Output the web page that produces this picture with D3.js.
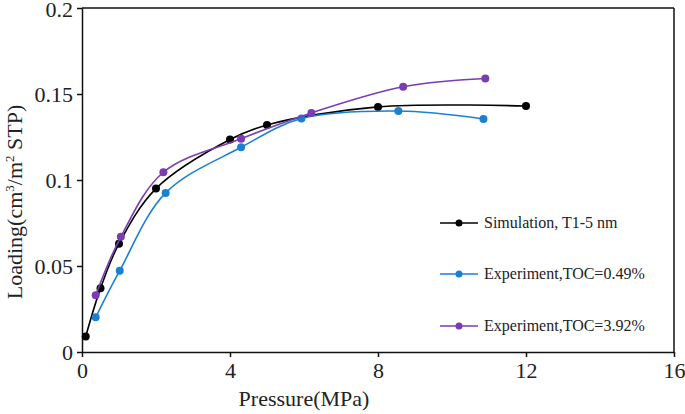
<!DOCTYPE html>
<html><head><meta charset="utf-8">
<script src="https://cdn.jsdelivr.net/npm/d3@7"></script>
<style>body{margin:0;background:#fff}svg{display:block}svg text{font-family:"Liberation Serif","Times New Roman",serif !important;fill:#222}</style>
</head><body><svg id="c" width="685" height="414"></svg>
<script>
// Data
const simX = [0.1, 0.5, 1.0, 2.0, 4.0, 5.0, 8.0, 12.0];
const simY = [0.009, 0.037, 0.063, 0.095, 0.1235, 0.132, 0.1425, 0.143];
const exp049X = [0.37, 1.02, 2.26, 4.3, 5.93, 8.55, 10.85];
const exp049Y = [0.0202, 0.0473, 0.0925, 0.119, 0.1357, 0.1401, 0.1355];
const exp392X = [0.37, 1.05, 2.2, 4.3, 6.2, 8.68, 10.9];
const exp392Y = [0.033, 0.067, 0.1045, 0.124, 0.139, 0.1542, 0.159];
const seriesNames = ["Simulation, T1-5 nm", "Experiment,TOC=0.49%", "Experiment,TOC=3.92%"];
const seriesColors = ["#000000", "#1a80d4", "#7a3cb2"];
const xTicks = [0, 4, 8, 12, 16];
const yTicks = [0, 0.05, 0.1, 0.15, 0.2];
const yTickLabels = ["0", "0.05", "0.1", "0.15", "0.2"];

const svg = d3.select("#c");
const L = 82, R = 674, T = 8, B = 352;
const x = d3.scaleLinear().domain([0, 16]).range([L, R]);
const y = d3.scaleLinear().domain([0, 0.2]).range([B, T]);

// frame
svg.append("line").attr("x1", L).attr("x2", R).attr("y1", T).attr("y2", T).attr("stroke", "#111").attr("stroke-width", 1.5);
svg.append("line").attr("x1", R).attr("x2", R).attr("y1", T).attr("y2", B).attr("stroke", "#111").attr("stroke-width", 1.5);

const xAxis = svg.append("g").attr("transform", `translate(0,${B})`)
  .call(d3.axisBottom(x).tickValues(xTicks).tickSize(5).tickSizeOuter(0).tickFormat(d => String(d)));
const yAxis = svg.append("g").attr("transform", `translate(${L},0)`)
  .call(d3.axisLeft(y).tickValues(yTicks).tickSize(5).tickSizeOuter(0).tickFormat((d, i) => yTickLabels[i]));
[xAxis, yAxis].forEach(g => {
  g.attr("font-family", "Liberation Serif");
  g.select(".domain").attr("stroke", "#111").attr("stroke-width", 1.5);
  g.selectAll(".tick line").attr("stroke", "#111").attr("stroke-width", 1.5);
  g.selectAll("text").attr("font-size", 22).attr("fill", "#222");
});
xAxis.selectAll("text").attr("y", 10).attr("dy", "0.71em");
yAxis.selectAll("text").attr("x", -9).attr("dy", "0.34em");
yAxis.selectAll(".tick").filter(d => d === 0.2).select("text").attr("dy", "0.4em");

// axis titles
svg.append("text").attr("x", 304).attr("y", 406).attr("text-anchor", "middle").attr("font-size", 22).text("Pressure(MPa)");
const yt = svg.append("text").attr("transform", "translate(22,202) rotate(-90)").attr("text-anchor", "middle").attr("font-size", 22);
yt.append("tspan").text("Loading(cm");
yt.append("tspan").attr("font-size", 13).attr("dy", -8).text("3");
yt.append("tspan").attr("dy", 8).text("/m");
yt.append("tspan").attr("font-size", 13).attr("dy", -8).text("2");
yt.append("tspan").attr("dy", 8).text(" STP)");

// series
const series = [
  {xs: simX, ys: simY},
  {xs: exp049X, ys: exp049Y},
  {xs: exp392X, ys: exp392Y}
];
const line = d3.line().x(d => x(d[0])).y(d => y(d[1])).curve(d3.curveCatmullRom.alpha(0.5));
series.forEach((s, i) => {
  const pts = s.xs.map((v, k) => [v, s.ys[k]]);
  svg.append("path").attr("d", line(pts)).attr("fill", "none").attr("stroke", seriesColors[i]).attr("stroke-width", 1.6);
  svg.append("g").selectAll("circle").data(pts).join("circle")
    .attr("cx", d => x(d[0])).attr("cy", d => y(d[1])).attr("r", 4).attr("fill", seriesColors[i]);
});

// legend
const legY = [223, 274, 326];
seriesNames.forEach((n, i) => {
  const g = svg.append("g").attr("transform", `translate(0,${legY[i]})`);
  g.append("line").attr("x1", 440).attr("x2", 478).attr("stroke", seriesColors[i]).attr("stroke-width", 1.6);
  g.append("circle").attr("cx", 459).attr("r", 3.5).attr("fill", seriesColors[i]);
  g.append("text").attr("x", 484).attr("dy", "0.33em").attr("font-size", 16).text(n);
});
</script></body></html>
